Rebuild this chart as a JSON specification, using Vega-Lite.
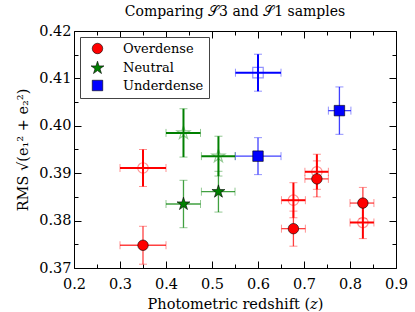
{
  "$schema": "https://vega.github.io/schema/vega-lite/v6.json",
  "width": 322,
  "height": 237,
  "padding": {"left": 15, "top": 5, "right": 5, "bottom": 2},
  "title": {"text": "Comparing 𝒮3 and 𝒮1 samples", "font": "DejaVu Serif", "fontSize": 14, "fontWeight": "normal", "offset": 4, "color": "black"},
  "config": {"view": {"stroke": "black", "strokeWidth": 1}, "font": "DejaVu Serif", "legend": {"labelFont": "DejaVu Serif", "labelFontSize": 13}},
  "data": {"values": [
    {"group": "Overdense", "kind": "filled", "x": 0.35, "y": 0.3748, "xlo": 0.30, "xhi": 0.40, "ylo": 0.3708, "yhi": 0.3788},
    {"group": "Overdense", "kind": "filled", "x": 0.677, "y": 0.3783, "xlo": 0.651, "xhi": 0.703, "ylo": 0.3746, "yhi": 0.3820},
    {"group": "Overdense", "kind": "filled", "x": 0.728, "y": 0.3888, "xlo": 0.702, "xhi": 0.753, "ylo": 0.3850, "yhi": 0.3926},
    {"group": "Overdense", "kind": "filled", "x": 0.828, "y": 0.3837, "xlo": 0.80, "xhi": 0.852, "ylo": 0.3804, "yhi": 0.3870},
    {"group": "Overdense", "kind": "open", "x": 0.35, "y": 0.3911, "xlo": 0.30, "xhi": 0.40, "ylo": 0.3872, "yhi": 0.3950},
    {"group": "Overdense", "kind": "open", "x": 0.677, "y": 0.3843, "xlo": 0.651, "xhi": 0.703, "ylo": 0.3806, "yhi": 0.3880},
    {"group": "Overdense", "kind": "open", "x": 0.728, "y": 0.3903, "xlo": 0.702, "xhi": 0.753, "ylo": 0.3866, "yhi": 0.3940},
    {"group": "Overdense", "kind": "open", "x": 0.828, "y": 0.3796, "xlo": 0.80, "xhi": 0.852, "ylo": 0.3762, "yhi": 0.3830},
    {"group": "Neutral", "kind": "filled", "x": 0.438, "y": 0.3835, "xlo": 0.400, "xhi": 0.475, "ylo": 0.3785, "yhi": 0.3885},
    {"group": "Neutral", "kind": "filled", "x": 0.514, "y": 0.3861, "xlo": 0.477, "xhi": 0.550, "ylo": 0.3818, "yhi": 0.3904},
    {"group": "Neutral", "kind": "open", "x": 0.438, "y": 0.3985, "xlo": 0.400, "xhi": 0.475, "ylo": 0.3934, "yhi": 0.4036},
    {"group": "Neutral", "kind": "open", "x": 0.514, "y": 0.3936, "xlo": 0.477, "xhi": 0.550, "ylo": 0.3894, "yhi": 0.3978},
    {"group": "Underdense", "kind": "filled", "x": 0.600, "y": 0.3936, "xlo": 0.551, "xhi": 0.650, "ylo": 0.3897, "yhi": 0.3975},
    {"group": "Underdense", "kind": "filled", "x": 0.777, "y": 0.4032, "xlo": 0.753, "xhi": 0.802, "ylo": 0.3982, "yhi": 0.4082},
    {"group": "Underdense", "kind": "open", "x": 0.600, "y": 0.4112, "xlo": 0.551, "xhi": 0.650, "ylo": 0.4073, "yhi": 0.4151}
  ]},
  "layer": [
    {
      "mark": {"type": "rule"},
      "encoding": {
        "x": {"field": "xlo", "type": "quantitative", "scale": {"domain": [0.2, 0.9], "nice": false, "zero": false},
          "axis": {"orient": "bottom", "title": "Photometric redshift (𝑧)", "titleFont": "DejaVu Serif", "titleFontSize": 14.5, "titleFontWeight": "normal", "titleColor": "black", "titlePadding": 4,
            "values": [0.2, 0.25, 0.3, 0.35, 0.4, 0.45, 0.5, 0.55, 0.6, 0.65, 0.7, 0.75, 0.8, 0.85, 0.9],
            "labelExpr": "abs(datum.value*10 - round(datum.value*10)) < 0.001 ? format(datum.value, '.1f') : ''",
            "tickSize": {"condition": {"test": "abs(datum.value*10 - round(datum.value*10)) < 0.001", "value": -7}, "value": -4},
            "tickColor": "black", "domain": false, "grid": false, "labelFont": "DejaVu Serif", "labelFontSize": 14.5, "labelColor": "black", "labelPadding": 16, "labelFlush": false, "labelOverlap": false}},
        "x2": {"field": "xhi"},
        "y": {"field": "y", "type": "quantitative", "scale": {"domain": [0.37, 0.42], "nice": false, "zero": false},
          "axis": {"orient": "left", "title": "RMS √(e₁² + e₂²)", "titleFont": "DejaVu Serif", "titleFontSize": 14.5, "titleFontWeight": "normal", "titleColor": "black", "titlePadding": 8,
            "values": [0.37, 0.375, 0.38, 0.385, 0.39, 0.395, 0.4, 0.405, 0.41, 0.415, 0.42],
            "labelExpr": "abs(datum.value*100 - round(datum.value*100)) < 0.001 ? format(datum.value, '.2f') : ''",
            "tickSize": {"condition": {"test": "abs(datum.value*100 - round(datum.value*100)) < 0.001", "value": -7}, "value": -4},
            "tickColor": "black", "domain": false, "grid": false, "labelFont": "DejaVu Serif", "labelFontSize": 14.5, "labelColor": "black", "labelPadding": 10, "labelFlush": false, "labelOverlap": false}},
        "stroke": {"field": "group", "type": "nominal", "scale": {"domain": ["Underdense", "Neutral", "Overdense"], "range": ["#0000ff", "#008000", "#ff0000"]}, "legend": null},
        "strokeWidth": {"field": "kind", "type": "nominal", "scale": {"domain": ["filled", "open"], "range": [1.3, 2]}, "legend": null},
        "strokeOpacity": {"field": "kind", "type": "nominal", "scale": {"domain": ["filled", "open"], "range": [0.75, 1]}, "legend": null}
      }
    },
    {
      "mark": {"type": "point", "opacity": 0},
      "encoding": {
        "x": {"field": "x", "type": "quantitative",
          "axis": {"orient": "top", "title": null, "labels": false, "domain": false, "grid": false, "tickColor": "black",
            "values": [0.2, 0.25, 0.3, 0.35, 0.4, 0.45, 0.5, 0.55, 0.6, 0.65, 0.7, 0.75, 0.8, 0.85, 0.9],
            "tickSize": {"condition": {"test": "abs(datum.value*10 - round(datum.value*10)) < 0.001", "value": -7}, "value": -4}}},
        "y": {"field": "y", "type": "quantitative",
          "axis": {"orient": "right", "title": null, "labels": false, "domain": false, "grid": false, "tickColor": "black",
            "values": [0.37, 0.375, 0.38, 0.385, 0.39, 0.395, 0.4, 0.405, 0.41, 0.415, 0.42],
            "tickSize": {"condition": {"test": "abs(datum.value*100 - round(datum.value*100)) < 0.001", "value": -7}, "value": -4}}}
      }
    },
    {
      "mark": {"type": "rule"},
      "encoding": {
        "x": {"field": "x", "type": "quantitative", "axis": null},
        "y": {"field": "ylo", "type": "quantitative", "axis": null},
        "y2": {"field": "yhi"},
        "stroke": {"field": "group", "type": "nominal", "legend": null},
        "strokeWidth": {"field": "kind", "type": "nominal", "legend": null},
        "strokeOpacity": {"field": "kind", "type": "nominal", "legend": null}
      }
    },
    {
      "mark": {"type": "point", "shape": "M0,-1L0,1", "size": 64, "filled": false, "strokeWidth": 1, "strokeOpacity": 0.6},
      "encoding": {"x": {"field": "xlo", "type": "quantitative", "axis": null}, "y": {"field": "y", "type": "quantitative", "axis": null}, "stroke": {"field": "group", "type": "nominal", "legend": null}}
    },
    {
      "mark": {"type": "point", "shape": "M0,-1L0,1", "size": 64, "filled": false, "strokeWidth": 1, "strokeOpacity": 0.6},
      "encoding": {"x": {"field": "xhi", "type": "quantitative", "axis": null}, "y": {"field": "y", "type": "quantitative", "axis": null}, "stroke": {"field": "group", "type": "nominal", "legend": null}}
    },
    {
      "mark": {"type": "point", "shape": "M-1,0L1,0", "size": 64, "filled": false, "strokeWidth": 1, "strokeOpacity": 0.6},
      "encoding": {"x": {"field": "x", "type": "quantitative", "axis": null}, "y": {"field": "ylo", "type": "quantitative", "axis": null}, "stroke": {"field": "group", "type": "nominal", "legend": null}}
    },
    {
      "mark": {"type": "point", "shape": "M-1,0L1,0", "size": 64, "filled": false, "strokeWidth": 1, "strokeOpacity": 0.6},
      "encoding": {"x": {"field": "x", "type": "quantitative", "axis": null}, "y": {"field": "yhi", "type": "quantitative", "axis": null}, "stroke": {"field": "group", "type": "nominal", "legend": null}}
    },
    {
      "transform": [{"filter": "datum.kind === 'open'"}],
      "mark": {"type": "point", "filled": false, "size": 110, "strokeWidth": 1.2, "strokeOpacity": 0.6},
      "encoding": {
        "x": {"field": "x", "type": "quantitative", "axis": null},
        "y": {"field": "y", "type": "quantitative", "axis": null},
        "stroke": {"field": "group", "type": "nominal", "legend": null},
        "shape": {"field": "group", "type": "nominal", "scale": {"domain": ["Overdense", "Neutral", "Underdense"], "range": ["circle", "M0,-1.3L0.292,-0.402L1.236,-0.402L0.472,0.153L0.764,1.052L0,0.497L-0.764,1.052L-0.472,0.153L-1.236,-0.402L-0.292,-0.402Z", "square"]},
          "legend": {"title": null, "orient": "top-left", "offset": 6, "padding": 5, "symbolOffset": 6, "strokeColor": "#444", "fillColor": "white", "labelFont": "DejaVu Serif", "labelFontSize": 13, "labelColor": "black", "symbolSize": 110, "symbolStrokeColor": "black", "symbolStrokeWidth": 0.6, "symbolOpacity": 1, "rowPadding": 3.5, "labelOffset": 19, "labelExpr": "datum.label + '\u00a0'"}}
      }
    },
    {
      "transform": [{"filter": "datum.kind === 'filled'"}],
      "mark": {"type": "point", "filled": true, "size": 110, "opacity": 1, "stroke": "black", "strokeWidth": 0.6},
      "encoding": {
        "x": {"field": "x", "type": "quantitative", "axis": null},
        "y": {"field": "y", "type": "quantitative", "axis": null},
        "color": {"field": "group", "type": "nominal", "scale": {"domain": ["Overdense", "Neutral", "Underdense"], "range": ["#ff0000", "#008000", "#0000ff"]},
          "legend": {"title": null, "orient": "top-left", "offset": 6, "padding": 5, "symbolOffset": 6, "strokeColor": "#444", "fillColor": "white", "labelFont": "DejaVu Serif", "labelFontSize": 13, "labelColor": "black", "symbolSize": 110, "symbolStrokeColor": "black", "symbolStrokeWidth": 0.6, "symbolOpacity": 1, "rowPadding": 3.5, "labelOffset": 19, "labelExpr": "datum.label + '\u00a0'"}},
        "shape": {"field": "group", "type": "nominal",
          "legend": {"title": null, "orient": "top-left", "offset": 6, "padding": 5, "symbolOffset": 6, "strokeColor": "#444", "fillColor": "white", "labelFont": "DejaVu Serif", "labelFontSize": 13, "labelColor": "black", "symbolSize": 110, "symbolStrokeColor": "black", "symbolStrokeWidth": 0.6, "symbolOpacity": 1, "rowPadding": 3.5, "labelOffset": 19, "labelExpr": "datum.label + '\u00a0'"}}
      }
    }
  ],
  "resolve": {"axis": {"x": "independent", "y": "independent"}}
}
